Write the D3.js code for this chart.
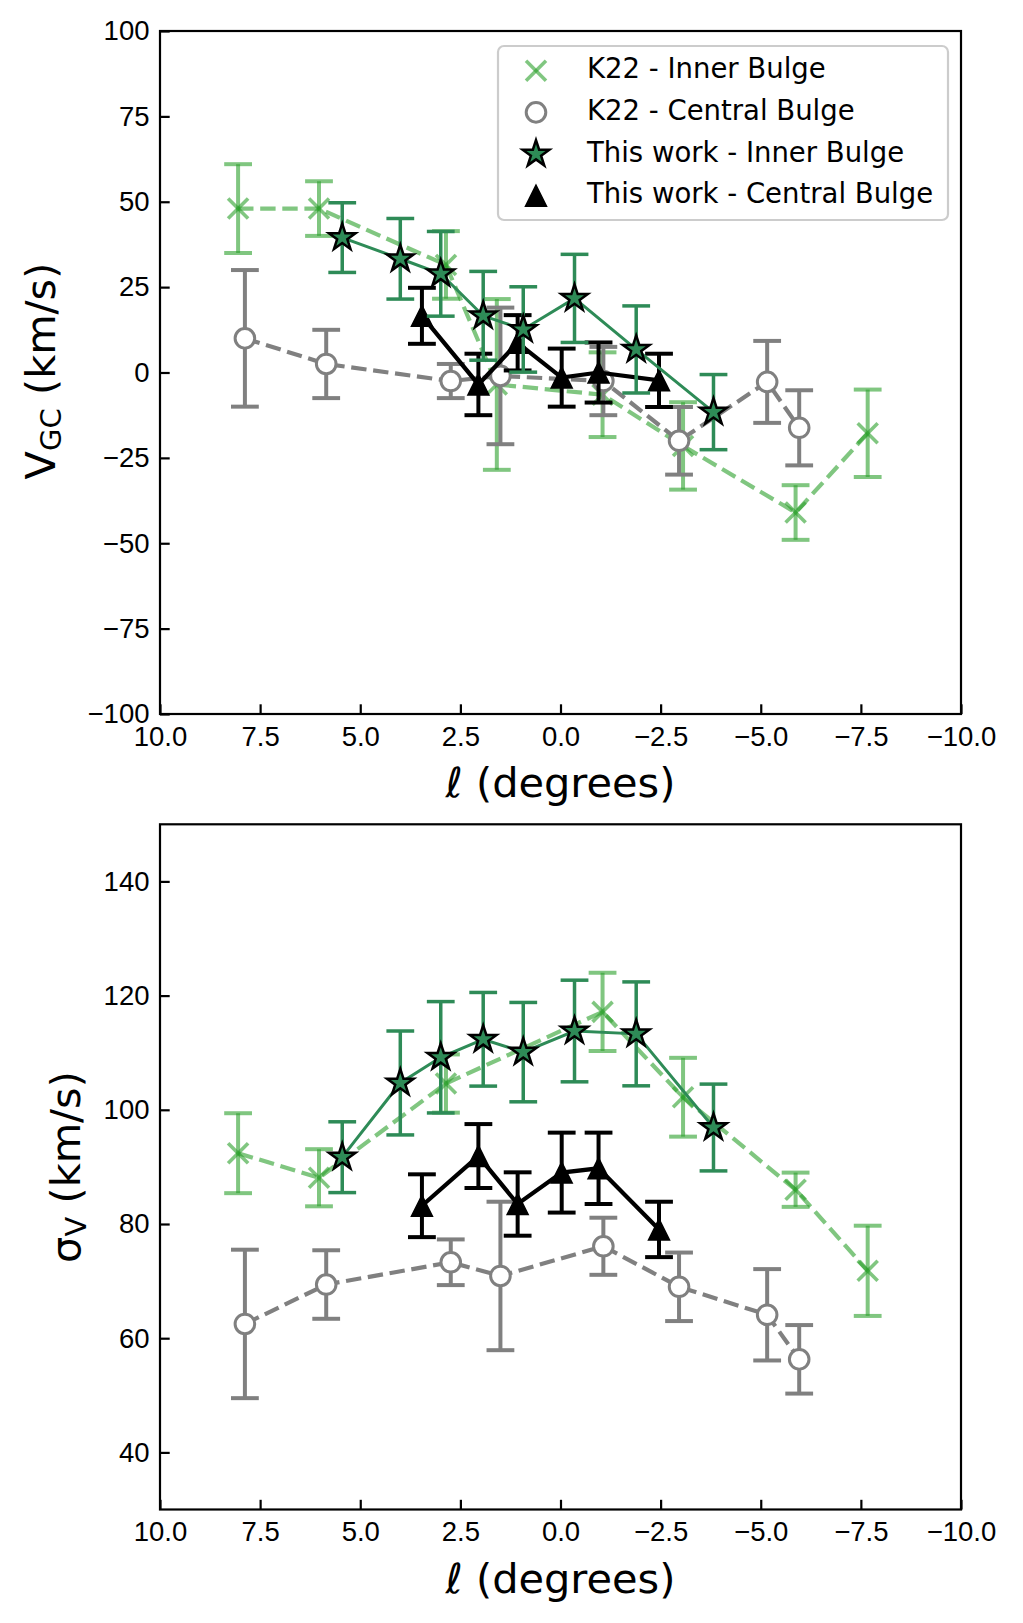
<!DOCTYPE html>
<meta charset="utf-8">
<style>
    body { margin: 0; background: #fff; }
    svg { font-family: "DejaVu Sans", sans-serif; }
    .tick text { font-size: 27.5px; fill: #000; }
    .tick line { stroke: #000; stroke-width: 2.2px; }
    .axis-label { font-size: 41.5px; fill: #000; }
    .legend text { font-size: 27.5px; fill: #000; }
</style>
<svg width="1023" height="1623"></svg>
<script src="https://d3js.org/d3.v7.min.js"></script>
<script>
    // Galactic longitude of each bin (degrees)
    const lK22Inner   = [8.05, 6.03, 2.86, 1.59, -1.05, -3.06, -5.87, -7.67];
    const lK22Central = [7.88, 5.85, 2.74, 1.50, -1.07, -2.96, -5.16, -5.96];
    const lInner      = [5.45, 4.00, 2.99, 1.93, 0.93, -0.35, -1.89, -3.82];
    const lCentral    = [3.46, 2.05, 1.07, -0.03, -0.95, -2.46];

    // Top panel: mean velocity V_GC and its error
    const vK22Inner      = [48, 48, 31.5, -3.5, -6.5, -21.5, -41, -17.8];
    const vK22InnerErr   = [13, 8, 9.9, 25, 12.4, 12.8, 8, 12.8];
    const vK22Central    = [10, 2.5, -2.5, -1, -2.5, -20, -2.75, -16.2];
    const vK22CentralErr = [20, 10, 5, 20, 10, 9.9, 12, 11];
    const vInner         = [39.5, 33.3, 28.9, 16.6, 12.6, 21.7, 6.75, -11.6];
    const vInnerErr      = [10.2, 11.8, 12.4, 13, 12.5, 12.9, 12.75, 11];
    const vCentral       = [16.6, -3.5, 8.7, -1.5, 0, -2.3];
    const vCentralErr    = [8.2, 9, 8.1, 8.5, 8.8, 7.8];

    // Bottom panel: velocity dispersion sigma_V and its error (null = no value)
    const sK22Inner      = [92.4, 88.1, 104.6, null, 117.15, 102.2, 86, 71.8];
    const sK22InnerErr   = [7, 5, 5.1, null, 6.85, 6.9, 3, 7.9];
    const sK22Central    = [62.5, 69.4, 73.3, 70.9, 76.1, 69, 64.1, 56.3];
    const sK22CentralErr = [13, 6, 4, 13, 5, 6, 8, 6];
    const sInner         = [91.7, 104.7, 109.2, 112.35, 110.1, 113.8, 113.3, 96.9];
    const sInnerErr      = [6.2, 9.1, 9.75, 8.2, 8.7, 8.9, 9.1, 7.6];
    const sCentral       = [83.2, 91.9, 83.5, 89, 89.75, 79.05];
    const sCentralErr    = [5.5, 5.6, 5.55, 7, 6.25, 4.85];

    const xTicks = [10, 7.5, 5, 2.5, 0, -2.5, -5, -7.5, -10];
    const vTicks = [-100, -75, -50, -25, 0, 25, 50, 75, 100];
    const sTicks = [40, 60, 80, 100, 120, 140];
    const legendLabels = ["K22 - Inner Bulge", "K22 - Central Bulge",
                          "This work - Inner Bulge", "This work - Central Bulge"];

    const lightGreen = "#2ca02c", darkGreen = "#2e8b57";
    const svg = d3.select("svg");
    const left = 160, right = 961;

    const x = d3.scaleLinear().domain([10, -10]).range([left, right]);

    // series styles, in drawing order
    const styles = [
        { marker: "x",        color: lightGreen, opacity: 0.6, dash: "15.4 6.7", lw: 4.2, elw: 4 },
        { marker: "circle",   color: "gray",     opacity: 1,   dash: "15.4 6.7", lw: 4.2, elw: 4 },
        { marker: "triangle", color: "#000",     opacity: 1,   dash: null,       lw: 4.2, elw: 4 },
        { marker: "star",     color: darkGreen,  opacity: 1,   dash: null,       lw: 3,   elw: 3.5 }
    ];

    function starPath(r) {
        const ri = r * 0.381966, pts = [];
        for (let k = 0; k < 10; k++) {
            const a = -Math.PI / 2 + k * Math.PI / 5, rr = k % 2 ? ri : r;
            pts.push([rr * Math.cos(a), rr * Math.sin(a)]);
        }
        return "M" + pts.map(p => p.join(",")).join("L") + "Z";
    }

    function drawMarker(g, st, cx, cy) {
        if (st.marker === "x") {
            const h = 10;
            [[-h, -h, h, h], [-h, h, h, -h]].forEach(s => {
                g.append("line")
                    .attr("x1", cx + s[0]).attr("y1", cy + s[1])
                    .attr("x2", cx + s[2]).attr("y2", cy + s[3])
                    .attr("stroke", st.color).attr("stroke-width", 3.6)
                    .attr("stroke-opacity", st.opacity);
            });
        } else if (st.marker === "circle") {
            g.append("circle").attr("cx", cx).attr("cy", cy).attr("r", 9.8)
                .attr("fill", "#fff").attr("stroke", st.color).attr("stroke-width", 3);
        } else if (st.marker === "triangle") {
            const h = 10.5;
            g.append("path")
                .attr("d", `M${cx},${cy - h}L${cx - h},${cy + h}L${cx + h},${cy + h}Z`)
                .attr("fill", "#000").attr("stroke", "#000").attr("stroke-width", 1.5);
        } else {
            g.append("path")
                .attr("d", starPath(14))
                .attr("transform", `translate(${cx},${cy})`)
                .attr("fill", darkGreen).attr("stroke", "#000").attr("stroke-width", 2.5);
        }
    }

    function drawSeries(g, y, st, ls, vals, errs) {
        const pts = ls.map((l, i) => ({ l: l, v: vals[i], e: errs[i] }))
            .filter(d => d.v !== null);
        const cap = 13.9;

        // error bars
        pts.forEach(d => {
            const px = x(d.l);
            g.append("line")
                .attr("x1", px).attr("x2", px)
                .attr("y1", y(d.v - d.e)).attr("y2", y(d.v + d.e))
                .attr("stroke", st.color).attr("stroke-width", st.elw)
                .attr("stroke-opacity", st.opacity);
            [d.v - d.e, d.v + d.e].forEach(yv => {
                g.append("line")
                    .attr("x1", px - cap).attr("x2", px + cap)
                    .attr("y1", y(yv)).attr("y2", y(yv))
                    .attr("stroke", st.color).attr("stroke-width", st.elw)
                    .attr("stroke-opacity", st.opacity);
            });
        });

        // connecting line
        const line = d3.line().x(d => x(d.l)).y(d => y(d.v));
        g.append("path")
            .datum(pts)
            .attr("d", line)
            .attr("fill", "none")
            .attr("stroke", st.color)
            .attr("stroke-width", st.lw)
            .attr("stroke-opacity", st.opacity)
            .attr("stroke-dasharray", st.dash);

        // markers
        pts.forEach(d => drawMarker(g, st, x(d.l), y(d.v)));
    }

    function drawPanel(top, bottom, domain, ticks, fmt, series) {
        const y = d3.scaleLinear().domain(domain).range([bottom, top]);
        const g = svg.append("g");

        series.forEach((s, i) => drawSeries(g, y, styles[i], s[0], s[1], s[2]));

        svg.append("g")
            .attr("transform", `translate(0,${bottom})`)
            .call(d3.axisBottom(x).tickValues(xTicks).tickFormat(d3.format(".1f"))
                .tickSizeInner(-9.7).tickSizeOuter(0).tickPadding(12))
            .call(a => a.select(".domain").remove());

        svg.append("g")
            .attr("transform", `translate(${left},0)`)
            .call(d3.axisLeft(y).tickValues(ticks).tickFormat(fmt)
                .tickSizeInner(-9.7).tickSizeOuter(0).tickPadding(10.5))
            .call(a => a.select(".domain").remove());

        svg.selectAll(".tick text").attr("font-family", null);

        // frame
        svg.append("rect")
            .attr("x", left).attr("y", top)
            .attr("width", right - left).attr("height", bottom - top)
            .attr("fill", "none").attr("stroke", "#000").attr("stroke-width", 2.2);

        // x label
        const xl = svg.append("text")
            .attr("class", "axis-label")
            .attr("x", (left + right) / 2)
            .attr("y", bottom + 83)
            .attr("text-anchor", "middle");
        xl.append("tspan").attr("font-style", "italic").text("ℓ");
        xl.append("tspan").text(" (degrees)");
        return y;
    }

    // ---- top panel: V_GC ----
    drawPanel(31, 714, [-100, 100], vTicks, d3.format("d"), [
        [lK22Inner, vK22Inner, vK22InnerErr],
        [lK22Central, vK22Central, vK22CentralErr],
        [lCentral, vCentral, vCentralErr],
        [lInner, vInner, vInnerErr]
    ]);

    // ---- bottom panel: sigma_V ----
    drawPanel(824.3, 1509.5, [30, 150], sTicks, d3.format("d"), [
        [lK22Inner, sK22Inner, sK22InnerErr],
        [lK22Central, sK22Central, sK22CentralErr],
        [lCentral, sCentral, sCentralErr],
        [lInner, sInner, sInnerErr]
    ]);

    // y labels
    const yl1 = svg.append("text")
        .attr("class", "axis-label")
        .attr("transform", "translate(55,371) rotate(-90)")
        .attr("text-anchor", "middle");
    yl1.append("tspan").text("V");
    yl1.append("tspan").attr("font-size", "29px").attr("dy", 6).text("GC");
    yl1.append("tspan").attr("dy", -6).text(" (km/s)");

    const yl2 = svg.append("text")
        .attr("class", "axis-label")
        .attr("transform", "translate(80,1167) rotate(-90)")
        .attr("text-anchor", "middle");
    yl2.append("tspan").text("σ");
    yl2.append("tspan").attr("font-size", "29px").attr("dy", 6).text("V");
    yl2.append("tspan").attr("dy", -6).text(" (km/s)");

    // legend (top panel)
    const legend = svg.append("g").attr("class", "legend");
    legend.append("rect")
        .attr("x", 498).attr("y", 46)
        .attr("width", 450).attr("height", 174)
        .attr("rx", 6).attr("ry", 6)
        .attr("fill", "#fff").attr("fill-opacity", 0.8)
        .attr("stroke", "#cccccc").attr("stroke-width", 2.2);

    const legendOrder = [0, 1, 3, 2];  // styles index for each legend row
    legendLabels.forEach((label, i) => {
        const base = 78.3 + i * 41.67;
        drawMarker(legend, styles[legendOrder[i]], 536, base - 7.6);
        legend.append("text")
            .attr("x", 587)
            .attr("y", base)
            .text(label);
    });
</script>
